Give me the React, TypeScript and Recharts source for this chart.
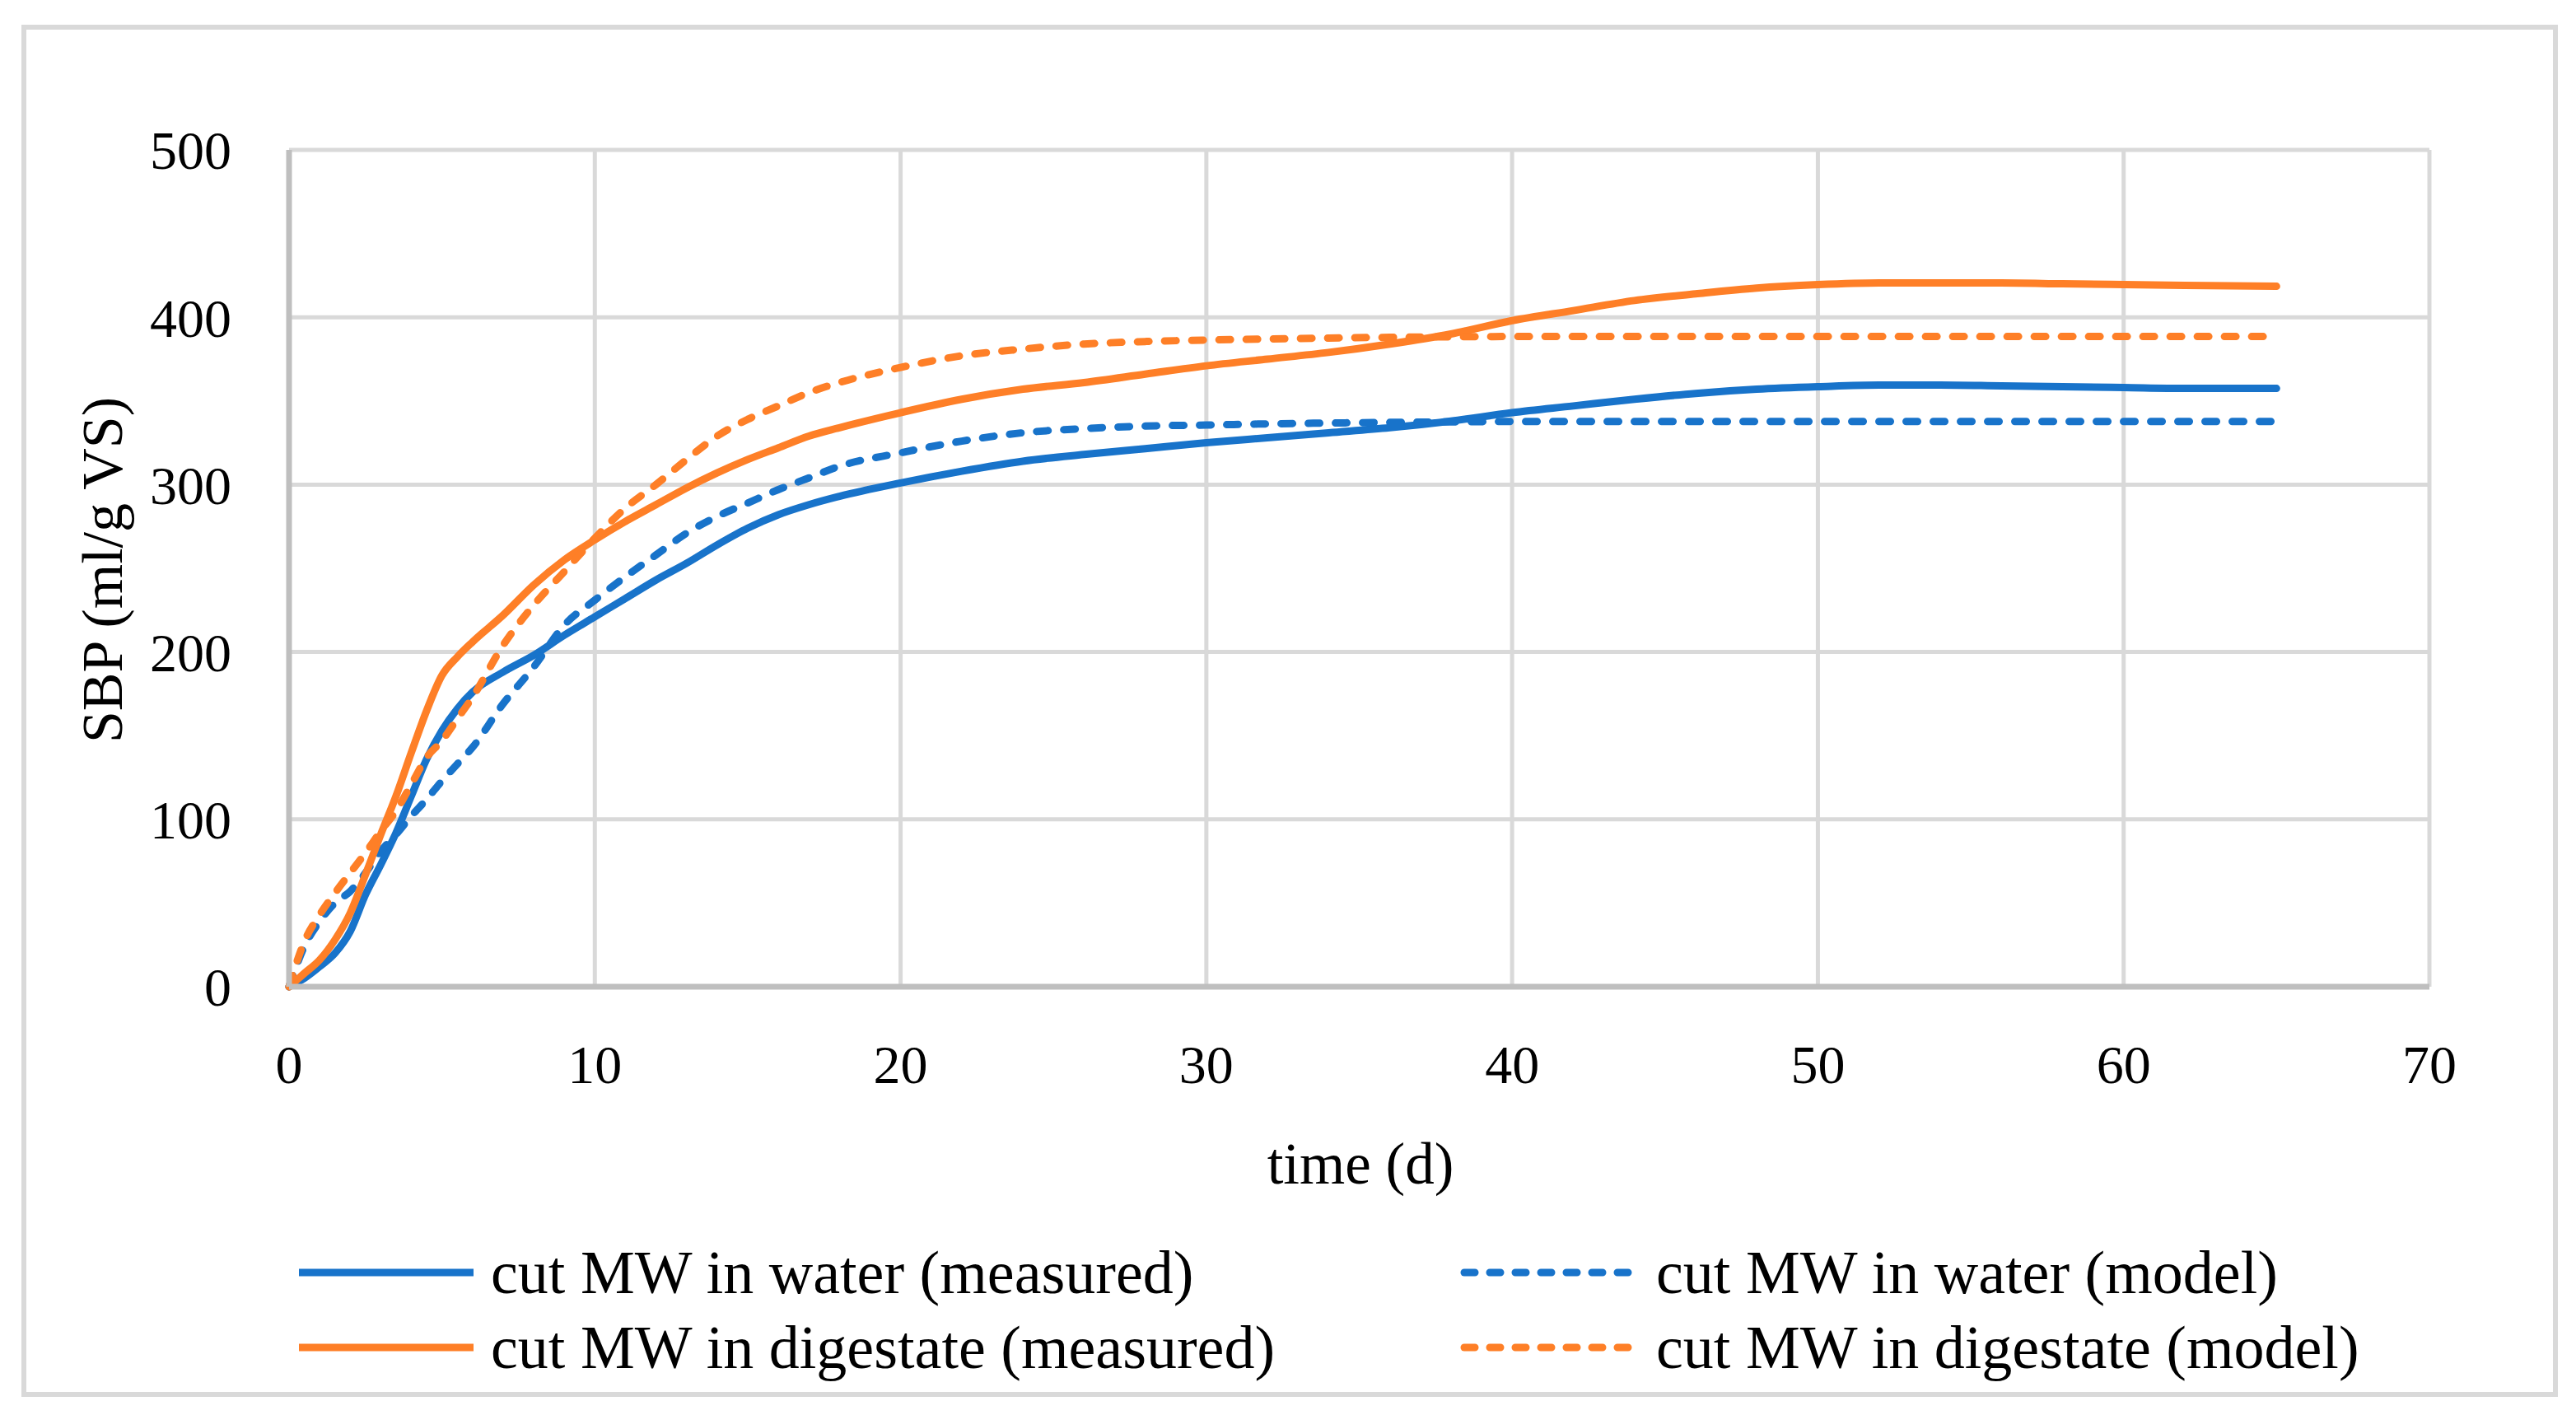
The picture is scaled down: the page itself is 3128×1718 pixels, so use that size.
import React from 'react';
import { LineChart, Line, XAxis, YAxis, CartesianGrid, Label } from 'recharts';

const days = [0, 0.5, 1, 1.5, 2, 2.5, 3, 3.5, 4, 4.5, 5, 5.5, 6, 7, 8, 9, 10, 11, 12, 13, 14, 15, 16, 17, 18, 20, 22, 24, 26, 28, 30, 32, 34, 36, 38, 40, 42, 44, 46, 48, 50, 52, 54, 56, 58, 60, 62, 65];

const waterMeasured = [0, 5, 12, 20, 33, 55, 73, 92, 114, 136, 153, 166, 176, 188, 198, 210, 221, 232, 243, 253, 264, 274, 282, 288, 293, 301, 308, 314, 318, 321.5, 325, 328, 331, 334, 338, 343, 347, 351, 354.5, 357, 358.5, 359.5, 359.5, 359, 358.5, 358, 357.5, 357.5];
const waterModel = [0, 24, 39, 50, 57, 68, 81, 91, 102, 112, 123, 133, 143, 169, 191, 216, 231, 245, 258, 271, 281, 289, 297, 304, 311, 319, 326, 331, 333.5, 335, 335.6, 336.3, 336.8, 337.2, 337.5, 337.7, 337.7, 337.7, 337.7, 337.7, 337.7, 337.7, 337.7, 337.7, 337.7, 337.7, 337.7, 337.7];
const digestateMeasured = [0, 8, 16, 28, 44, 67, 91, 114, 140, 165, 186, 197, 206, 222, 240, 255, 267, 278, 288, 298, 307, 315, 322, 329, 334, 343, 351, 357, 361, 366, 371, 375, 379, 384, 390, 398, 404, 410, 414, 417.5, 419.5, 420.5, 420.5, 420.5, 420, 419.5, 419, 418.5];
const digestateModel = [0, 27, 43, 56, 68, 80, 93, 105, 121, 137, 147, 160, 173, 204, 228, 248, 268, 286, 300, 315, 329, 339, 347, 355, 361, 370, 377, 381, 384, 385.5, 386.4, 387, 387.6, 388, 388.3, 388.5, 388.5, 388.5, 388.5, 388.5, 388.5, 388.5, 388.5, 388.5, 388.5, 388.5, 388.5, 388.5];

const xTicks = [0, 10, 20, 30, 40, 50, 60, 70];
const yTicks = [0, 100, 200, 300, 400, 500];

const BLUE = '#1873CA';
const ORANGE = '#FE7F27';
const FONT = '"Liberation Serif", "Times New Roman", serif';

const series = [
  { key: 'waterMeasured', name: 'cut MW in water (measured)', color: BLUE, dashed: false },
  { key: 'waterModel', name: 'cut MW in water (model)', color: BLUE, dashed: true },
  { key: 'digestateMeasured', name: 'cut MW in digestate (measured)', color: ORANGE, dashed: false },
  { key: 'digestateModel', name: 'cut MW in digestate (model)', color: ORANGE, dashed: true },
];

const data = days.map((d, i) => ({
  day: d,
  waterMeasured: waterMeasured[i],
  waterModel: waterModel[i],
  digestateMeasured: digestateMeasured[i],
  digestateModel: digestateModel[i],
}));

const tickStyle = { fill: '#000', fontSize: 66, fontFamily: FONT };

const LegendItem = ({ s, left, top }: { s: typeof series[number]; left: number; top: number }) => (
  <div style={{ position: 'absolute', left, top: top - 45, height: 90, display: 'flex', alignItems: 'center' }}>
    <svg width={222} height={20} style={{ display: 'block' }}>
      <line
        x1={5}
        y1={10}
        x2={217}
        y2={10}
        stroke={s.color}
        strokeWidth={9}
        strokeDasharray={s.dashed ? '13 18' : undefined}
        strokeLinecap={s.dashed ? 'round' : 'butt'}
      />
    </svg>
    <span style={{ marginLeft: 16, fontFamily: FONT, fontSize: 74, lineHeight: '90px', color: '#000', whiteSpace: 'nowrap' }}>
      {s.name}
    </span>
  </div>
);

export default function App() {
  const legendPos = [
    { left: 358, top: 1545 },
    { left: 1773, top: 1545 },
    { left: 358, top: 1636 },
    { left: 1773, top: 1636 },
  ];
  return (
    <div style={{ position: 'absolute', left: 0, top: 0, width: 3128, height: 1718, background: '#fff' }}>
      <div style={{ position: 'absolute', left: 26, top: 30, width: 3068, height: 1654, border: '6px solid #d9d9d9' }} />
      <div style={{ position: 'absolute', left: 0, top: 0 }}>
        <LineChart width={3128} height={1718} data={data} margin={{ top: 182, right: 178, left: 151, bottom: 370 }}>
          <CartesianGrid stroke="#d9d9d9" strokeWidth={5} />
          <XAxis
            dataKey="day"
            type="number"
            domain={[0, 70]}
            ticks={xTicks}
            height={150}
            tickLine={false}
            tickSize={0}
            tickMargin={70}
            axisLine={{ stroke: '#bfbfbf', strokeWidth: 7 }}
            tick={tickStyle}
          >
            <Label
              content={() => (
                <text x={1652} y={1413} textAnchor="middle" dominantBaseline="central" fontFamily={FONT} fontSize={71} fill="#000">
                  time (d)
                </text>
              )}
            />
          </XAxis>
          <YAxis
            type="number"
            domain={[0, 500]}
            ticks={yTicks}
            width={200}
            tickLine={false}
            tickSize={0}
            tickMargin={70}
            axisLine={{ stroke: '#bfbfbf', strokeWidth: 7 }}
            tick={tickStyle}
          >
            <Label
              content={() => (
                <text
                  x={124}
                  y={692}
                  textAnchor="middle"
                  dominantBaseline="central"
                  fontFamily={FONT}
                  fontSize={70}
                  fill="#000"
                  transform="rotate(-90 124 692)"
                >
                  SBP (ml/g VS)
                </text>
              )}
            />
          </YAxis>
          {series.map((s) => (
            <Line
              key={s.key}
              type="monotone"
              dataKey={s.key}
              name={s.name}
              stroke={s.color}
              strokeWidth={9}
              strokeDasharray={s.dashed ? '14 19' : undefined}
              strokeLinecap="round"
              dot={false}
              activeDot={false}
              isAnimationActive={false}
            />
          ))}
        </LineChart>
      </div>
      {series.map((s, i) => (
        <LegendItem key={s.key} s={s} left={legendPos[i].left} top={legendPos[i].top} />
      ))}
    </div>
  );
}
